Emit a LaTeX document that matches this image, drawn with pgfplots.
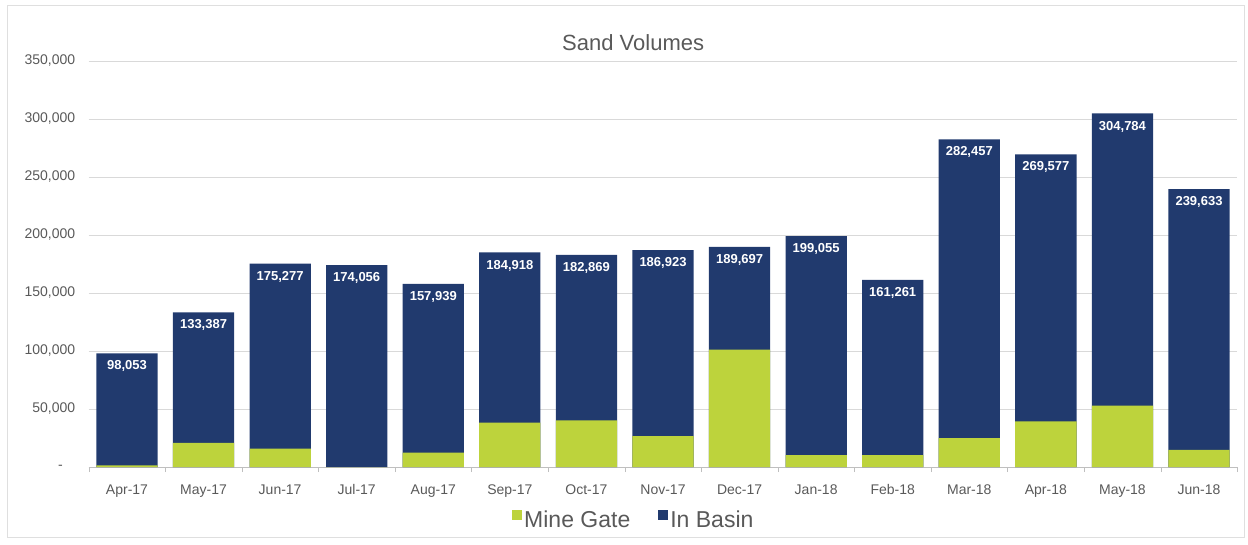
\documentclass[border=0pt]{standalone}
\usepackage{fontspec}
\setmainfont{Liberation Sans}
\usepackage{pgfplots}
\usepackage{pgfplotstable}
\pgfplotsset{compat=1.18}

\definecolor{basin}{RGB}{33,58,110}
\definecolor{gate}{RGB}{189,211,60}
\definecolor{txtgray}{RGB}{89,89,89}

% month, mine gate, total (mine gate + in basin), total label
\pgfplotstableread{
x gate total lab
0 1500 98053 98,053
1 20700 133387 133,387
2 15900 175277 175,277
3 0 174056 174,056
4 12400 157939 157,939
5 38300 184918 184,918
6 40300 182869 182,869
7 26700 186923 186,923
8 101200 189697 189,697
9 10300 199055 199,055
10 10300 161261 161,261
11 25000 282457 282,457
12 39400 269577 269,577
13 52900 304784 304,784
14 14700 239633 239,633
}\sandtable

\begin{document}
\begin{tikzpicture}
\path[use as bounding box] (-88.7pt,-77pt) rectangle (1159.3pt,467pt);
\draw[gray!25] (-81.7pt,-70pt) rectangle (1155.3pt,462pt);
\begin{axis}[
    at={(0pt,0pt)}, anchor=south west,
    scale only axis,
    width=1148.6pt, height=406pt,
    ybar, bar shift=0pt,
    bar width=0.8,
    xmin=-0.5, xmax=14.5,
    ymin=0, ymax=350000,
    scaled y ticks=false,
    xtick={0,...,14},
    xticklabels={Apr-17,May-17,Jun-17,Jul-17,Aug-17,Sep-17,Oct-17,Nov-17,Dec-17,Jan-18,Feb-18,Mar-18,Apr-18,May-18,Jun-18},
    minor xtick={-0.5,0.5,...,14.5},
    ytick={0,50000,...,350000},
    yticklabels={{\makebox[17pt][l]{-}},{50,000},{100,000},{150,000},{200,000},{250,000},{300,000},{350,000}},
    major tick length=0pt,
    minor tick length=5pt,
    tick align=outside,
    minor tick style={gray!50},
    axis x line*=bottom,
    axis y line*=left,
    x axis line style={gray!50},
    y axis line style={draw=none},
    ymajorgrids,
    grid style={gray!30},
    ticklabel style={font=\fontsize{14}{14}\selectfont, text=txtgray},
    xticklabel style={yshift=-14pt},
    yticklabel style={xshift=-10pt},
    title={Sand Volumes},
    title style={at={(0.474,1)}, anchor=center, yshift=12pt, font=\fontsize{22}{22}\selectfont, text=txtgray},
    legend columns=2,
    reverse legend,
    legend style={at={(0.4746,-0.1305)}, anchor=center, draw=none, fill=none,
        font=\fontsize{23}{23}\selectfont, text=txtgray,
        /tikz/every even column/.append style={column sep=26pt}},
    legend image code/.code={\fill[#1] (0pt,0pt) rectangle (10pt,10pt);},
    legend cell align=left,
]
\addplot[fill=basin, draw=none,
    nodes near coords,
    point meta=explicit symbolic,
    every node near coord/.append style={anchor=north, yshift=-4pt,
        font=\bfseries\fontsize{13}{13}\selectfont, text=white}]
    table[x=x, y=total, meta=lab] {\sandtable};
\addplot[fill=gate, draw=none] table[x=x, y=gate] {\sandtable};
\legend{In Basin, Mine Gate}
\end{axis}
\end{tikzpicture}
\end{document}
